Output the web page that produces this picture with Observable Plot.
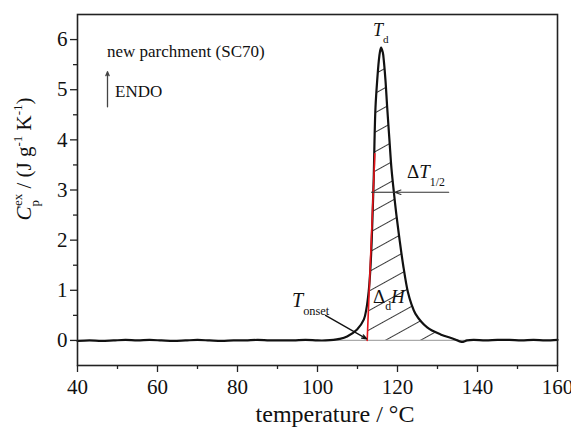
<!DOCTYPE html>
<html><head><meta charset="utf-8">
<script src="https://cdn.jsdelivr.net/npm/d3@7"></script>
<script src="https://cdn.jsdelivr.net/npm/@observablehq/plot@0.6"></script>
<style>
body{margin:0;background:#fff}
#chart svg, #chart svg text {font-family: "Liberation Serif", "Times New Roman", serif !important;}
</style>
</head><body><div id="chart"></div>
<script>
// ---- data ----
const temperature = [40,43,46,49,52,55,58,61,64,67,70,73,76,79,82,85,88,91,94,97,100,102,104,105.5,107.4,109.9,111.6,112.2,112.8,113.2,113.55,113.83,114.08,114.25,114.5,114.92,115.33,115.58,115.9,116.33,116.58,117,117.42,118,118.5,119.1,119.7,120.5,121.42,122.58,123.5,124.5,127.42,130.75,134.08,136,137.4,139,142,145,148,151,154,157,160];
const cpex = [-0.01,0,-0.01,0,0.01,0,0.01,0,-0.01,0,0.01,0,-0.01,0,0,0.01,0,0,0,0.01,0,0,0.01,0.03,0.08,0.22,0.42,0.62,0.98,1.4,1.99,2.66,3.32,3.98,4.65,5.18,5.58,5.74,5.84,5.74,5.58,5.18,4.65,3.98,3.42,2.95,2.52,2.02,1.5,0.97,0.72,0.53,0.26,0.12,0.03,-0.03,0,0.01,0,0.01,0.01,0,0.01,0,0.01];

const xTicks = [40,60,80,100,120,140,160];
const xMinorTicks = [50,70,90,110,130,150];
const yTicks = [0,1,2,3,4,5,6];
const yMinorTicks = [0.5,1.5,2.5,3.5,4.5,5.5];

const tangentT = [112.42, 114.33];
const tangentC = [0, 3.72];
const halfHeight = 2.955;
const halfWidthT = [113.4, 132.8];
const halfArrowTip = 119.3;
const baselineT = [103, 137.5];
const onsetArrowT = [102, 112.3];
const onsetArrowC = [0.5, 0.03];
const endoArrowT = 47.5;
const endoArrowC = [4.66, 5.36];

const labelTexts = [
  [["new parchment (SC70)",""]],
  [["ENDO",""]],
  [["T","i"],["d","sub"]],
  [["\u0394",""],["T","i"],["1/2","sub"]],
  [["T","i"],["onset","sub"]],
  [["\u0394",""],["d","sub"],["H","i"]]
];
const labelT = [47.5, 49.5, 114, 122.5, 93.75, 114];
const labelC = [5.64, 4.84, 6.06, 3.23, 0.66, 0.74];
const labelSize = [17, 17, 18, 19, 20, 19];

const xTitle = [["temperature / \u00B0C",""]];
const yTitle = [["C","i"],["p","sub"],["ex","sup",-6],[" / (J g",""],["-1","sup"],[" K",""],["-1","sup"],[")",""]];

// ---- derived tables ----
const curve = temperature.map((T,i) => ({T, C: cpex[i]}));
const slope = (tangentC[1]-tangentC[0])/(tangentT[1]-tangentT[0]);
const hatch = [{T: tangentT[0], C: 0}].concat(
  curve.filter(d => d.T > tangentT[0] && d.T <= 137.4)
       .map(d => ({T: d.T, C: Math.max(0, Math.min(d.C, slope*(d.T - tangentT[0])))}))
);

const plot = Plot.plot({
  width: 571, height: 429,
  marginLeft: 77, marginRight: 14, marginTop: 14, marginBottom: 64,
  style: {fontFamily: "'Liberation Serif', 'Times New Roman', serif", fontSize: "21px", color: "#111", background: "#fff", overflow: "visible"},
  x: {domain: [40,160], label: null},
  y: {domain: [-0.5,6.5], label: null},
  marks: [
    Plot.areaY(hatch, {x: "T", y1: 0, y2: "C", fill: "url(#hatch)", curve: "linear"}),
    Plot.ruleY([0], {x1: baselineT[0], x2: baselineT[1], stroke: "#aaa", strokeWidth: 1.2}),
    Plot.line(curve, {x: "T", y: "C", stroke: "#111", strokeWidth: 2.2, curve: "catmull-rom"}),
    Plot.line(tangentT.map((T,i)=>({T, C: tangentC[i]})), {x: "T", y: "C", stroke: "#e8141a", strokeWidth: 1.6}),
    Plot.link([0], {x1: halfWidthT[0], x2: halfArrowTip, y1: halfHeight, y2: halfHeight, stroke: "#333", strokeWidth: 1.1}),
    Plot.arrow([0], {x1: halfWidthT[1], x2: halfArrowTip, y1: halfHeight, y2: halfHeight, stroke: "#333", strokeWidth: 1.1, headLength: 9, headAngle: 40}),
    Plot.arrow([0], {x1: onsetArrowT[0], x2: onsetArrowT[1], y1: onsetArrowC[0], y2: onsetArrowC[1], stroke: "#111", strokeWidth: 1.3, headLength: 6, headAngle: 40}),
    Plot.arrow([0], {x1: endoArrowT, x2: endoArrowT, y1: endoArrowC[0], y2: endoArrowC[1], stroke: "#444", strokeWidth: 1.3, headLength: 5, headAngle: 45}),
    Plot.axisX({ticks: xTicks, tickSize: 7, tickPadding: 7, tickFormat: "d", label: null, stroke: "#222", strokeWidth: 1.3}),
    Plot.axisX({ticks: xMinorTicks, tickSize: 4, tickFormat: () => "", label: null, stroke: "#222", strokeWidth: 1.3}),
    Plot.axisY({ticks: yTicks, tickSize: 7, tickPadding: 3, tickFormat: "d", label: null, stroke: "#222", strokeWidth: 1.3}),
    Plot.axisY({ticks: yMinorTicks, tickSize: 4, tickFormat: () => "", label: null, stroke: "#222", strokeWidth: 1.3}),
    Plot.frame({stroke: "#222", strokeWidth: 1.6})
  ]
});

const svg = d3.select(plot);
const pat = svg.insert("defs", ":first-child").append("pattern")
  .attr("id", "hatch").attr("patternUnits", "userSpaceOnUse")
  .attr("width", 20).attr("height", 17).attr("patternTransform", "rotate(-29)");
pat.append("line").attr("x1", 0).attr("x2", 20).attr("y1", 8.5).attr("y2", 8.5)
  .attr("stroke", "#3a3a3a").attr("stroke-width", 1);

function richText(g, parts, size) {
  const t = g.append("text").attr("fill", "#111").attr("text-anchor", "start").style("font-size", size + "px");
  let cur = 0;
  for (const [s, kind, dx] of parts) {
    const target = kind === "sub" ? 0.4*size : kind === "sup" ? -0.45*size : 0;
    const ts = t.append("tspan").text(s).attr("dy", target - cur);
    if (dx) ts.attr("dx", dx);
    if (kind === "i") ts.style("font-style", "italic");
    if (kind === "sub" || kind === "sup") ts.style("font-size", (0.62*size) + "px");
    cur = target;
  }
  return t;
}

const sx = plot.scale("x"), sy = plot.scale("y");
const layer = svg.append("g");
labelTexts.forEach((parts, i) => {
  richText(layer, parts, labelSize[i]).attr("x", sx.apply(labelT[i])).attr("y", sy.apply(labelC[i]));
});
richText(layer, xTitle, 24).attr("x", 335).attr("y", 422).attr("text-anchor", "middle");
richText(layer, yTitle, 21).attr("text-anchor", "middle").attr("transform", "translate(31,159) rotate(-90)");

document.getElementById("chart").appendChild(plot);
</script>
</body></html>
